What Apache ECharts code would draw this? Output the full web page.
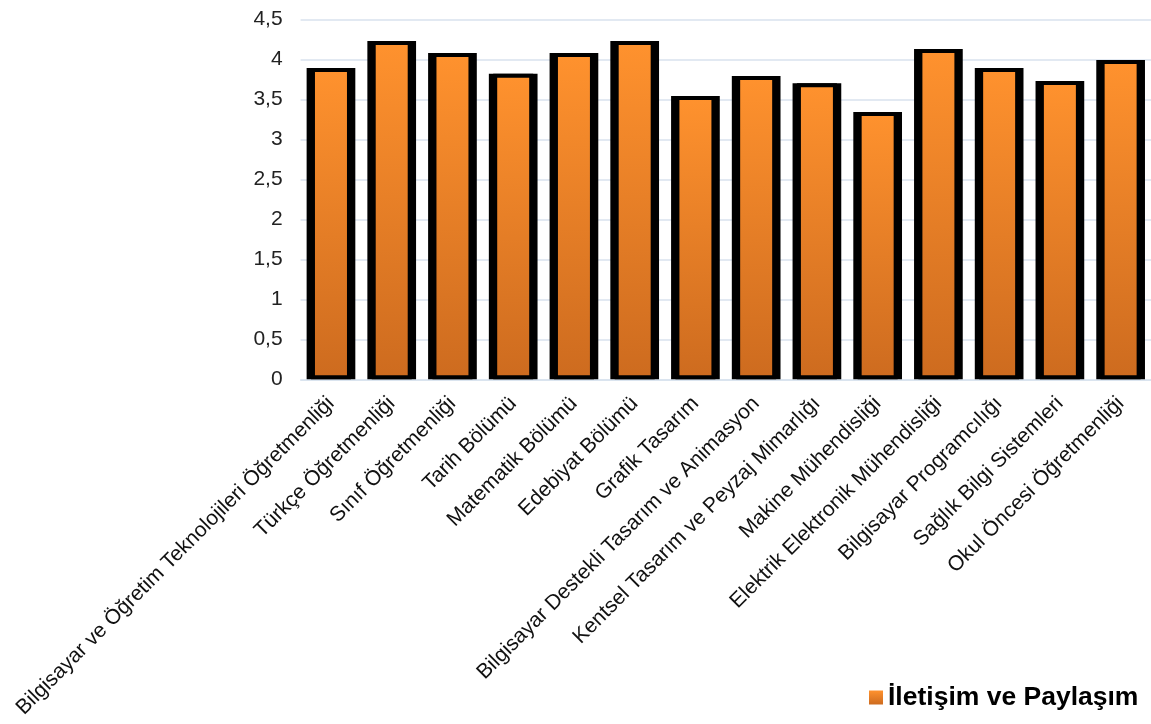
<!DOCTYPE html>
<html>
<head>
<meta charset="utf-8">
<script src="https://cdn.jsdelivr.net/npm/echarts@6/dist/echarts.min.js"></script>
<style>
html,body{margin:0;padding:0;background:#fff;}
#chart{width:1151px;height:724px;}
</style>
</head>
<body>
<div id="chart"></div>
<script>
const categories = [
  'Bilgisayar ve Öğretim Teknolojileri Öğretmenliği',
  'Türkçe Öğretmenliği',
  'Sınıf Öğretmenliği',
  'Tarih Bölümü',
  'Matematik Bölümü',
  'Edebiyat Bölümü',
  'Grafik Tasarım',
  'Bilgisayar Destekli Tasarım ve Animasyon',
  'Kentsel Tasarım ve Peyzaj Mimarlığı',
  'Makine Mühendisliği',
  'Elektrik Elektronik Mühendisliği',
  'Bilgisayar Programcılığı',
  'Sağlık Bilgi Sistemleri',
  'Okul Öncesi Öğretmenliği'
];
const values = [3.89, 4.23, 4.08, 3.82, 4.08, 4.23, 3.54, 3.79, 3.70, 3.34, 4.13, 3.89, 3.73, 3.99];
const seriesName = 'İletişim ve Paylaşım';
const yTicks = { min: 0, max: 4.5, interval: 0.5 };

const chart = echarts.init(document.getElementById('chart'), null, { renderer: 'canvas' });
const orange = new echarts.graphic.LinearGradient(0, 0, 0, 1, [
  { offset: 0, color: '#FF922E' },
  { offset: 1, color: '#CD6B1F' }
]);
const font = '"Liberation Sans", Arial, sans-serif';

chart.setOption({
  animation: false,
  textStyle: { fontFamily: font },
  grid: { left: 300.6, top: 19.3, width: 860, height: 360, containLabel: false },
  xAxis: [
    {
      type: 'category',
      data: categories,
      axisLine: { show: true, lineStyle: { color: '#D8E2EE', width: 1.5 } },
      axisTick: { show: false },
      axisLabel: {
        rotate: 45,
        interval: 0,
        margin: 21,
        fontSize: 21,
        color: '#111',
        fontFamily: font
      }
    },
    {
      type: 'category',
      data: categories,
      show: false
    }
  ],
  yAxis: {
    type: 'value',
    min: yTicks.min,
    max: yTicks.max,
    interval: yTicks.interval,
    axisLine: { show: false },
    axisTick: { show: false },
    splitLine: { lineStyle: { color: '#D8E2EE', width: 1.5 } },
    axisLabel: {
      margin: 18,
      fontSize: 21,
      color: '#222',
      fontFamily: font,
      formatter: v => String(v).replace('.', ',')
    }
  },
  legend: {
    data: [{ name: seriesName, itemStyle: { borderWidth: 0, color: orange } }],
    left: 869,
    top: 684,
    padding: 0,
    itemWidth: 14,
    itemHeight: 14,
    icon: 'rect',
    textStyle: { fontSize: 26.5, fontWeight: 'bold', color: '#000', fontFamily: font }
  },
  series: [
    {
      name: 'frame',
      type: 'bar',
      xAxisIndex: 0,
      data: values,
      barWidth: 48.7,
      itemStyle: { color: '#000' },
      silent: true,
      z: 2
    },
    {
      name: seriesName,
      type: 'bar',
      xAxisIndex: 1,
      data: values,
      barWidth: 40,
      itemStyle: { color: orange, borderColor: '#000', borderWidth: 4 },
      z: 3
    }
  ]
});
</script>
</body>
</html>
